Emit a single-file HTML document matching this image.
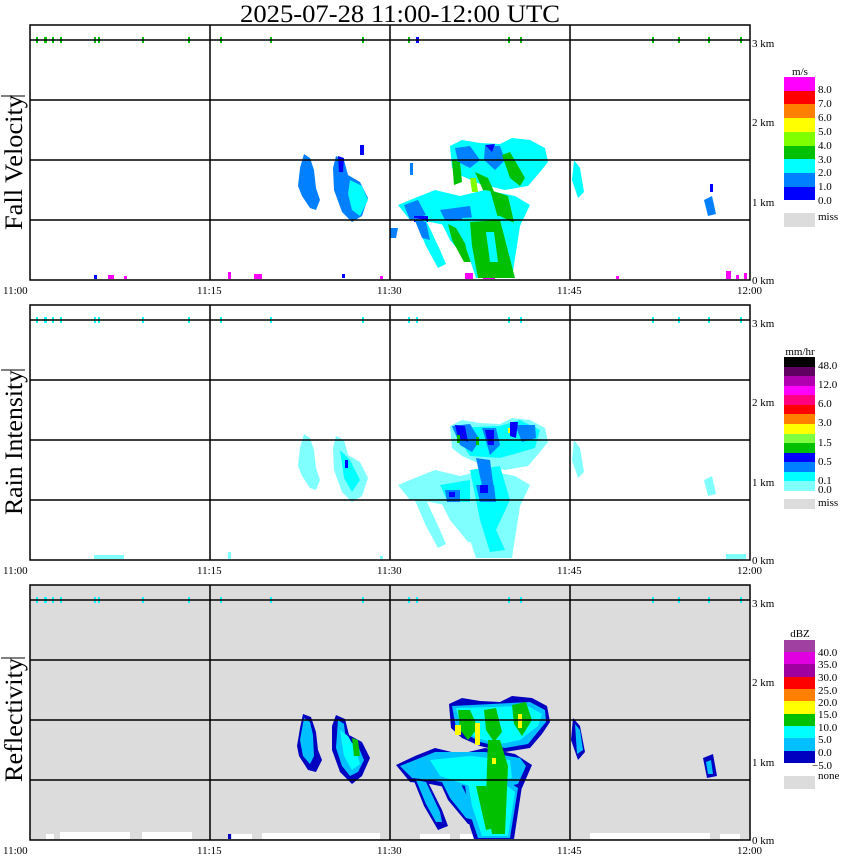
<!DOCTYPE html>
<html><head><meta charset="utf-8"><style>
html,body{margin:0;padding:0;background:#fff;}
svg{display:block;}
text{font-family:"Liberation Serif",serif;fill:#000;}
</style></head><body>
<svg width="850" height="868" viewBox="0 0 850 868" xmlns="http://www.w3.org/2000/svg">
<text x="400" y="22" font-size="25" text-anchor="middle" textLength="320" lengthAdjust="spacingAndGlyphs">2025-07-28  11:00-12:00 UTC</text>

<!-- ===== Panel 1: Fall Velocity ===== -->
<g>
<rect x="30" y="25" width="720" height="255" fill="#fff"/>
<g fill="#00c000">
<rect x="36" y="37" width="2" height="6"/><rect x="44" y="37" width="3" height="6"/><rect x="52" y="37" width="2" height="6"/><rect x="60" y="37" width="2" height="6"/><rect x="94" y="37" width="2" height="6"/><rect x="98" y="37" width="2" height="6"/><rect x="142" y="37" width="2" height="6"/><rect x="188" y="37" width="2" height="6"/><rect x="220" y="37" width="2" height="6"/><rect x="270" y="37" width="2" height="6"/><rect x="362" y="37" width="2" height="6"/><rect x="408" y="37" width="2" height="6"/><rect x="508" y="37" width="2" height="6"/><rect x="520" y="37" width="2" height="6"/><rect x="652" y="37" width="2" height="6"/><rect x="678" y="37" width="2" height="6"/><rect x="708" y="37" width="2" height="6"/><rect x="740" y="37" width="2" height="6"/>
</g>
<rect x="416" y="37" width="3" height="6" fill="#0000ff"/>
<g fill="#ff00ff">
<rect x="108" y="275" width="6" height="4"/><rect x="124" y="276" width="3" height="3"/><rect x="228" y="272" width="3" height="7"/><rect x="254" y="274" width="8" height="5"/><rect x="380" y="276" width="3" height="3"/><rect x="465" y="273" width="8" height="6"/><rect x="483" y="275" width="12" height="4"/><rect x="616" y="276" width="3" height="3"/><rect x="726" y="271" width="5" height="8"/><rect x="736" y="275" width="3" height="4"/><rect x="744" y="273" width="3" height="6"/>
</g>
<rect x="94" y="275" width="3" height="4" fill="#0000ff"/><rect x="342" y="274" width="3" height="4" fill="#0000ff"/>
<polygon fill="#0080ff" points="304,154 310,158 314,170 316,188 320,200 316,210 310,208 302,196 298,186 300,168"/>
<polygon fill="#0080ff" points="336,156 344,160 348,175 360,182 368,198 362,216 352,222 342,212 334,190 333,168"/>
<polygon fill="#00ffff" points="350,180 362,186 368,200 360,216 352,210 348,194"/>
<polygon fill="#0000ff" points="338,156 344,158 343,172 339,172"/>
<polygon fill="#0000ff" points="360,145 364,145 364,155 360,155"/>
<polygon fill="#00ffff" points="450,146 462,140 480,143 500,144 512,138 530,140 545,148 548,162 540,172 528,186 505,190 480,184 462,176 452,168"/>
<polygon fill="#0080ff" points="455,148 470,146 480,160 470,168 458,162"/>
<polygon fill="#0080ff" points="485,146 500,146 505,160 495,170 484,160"/>
<polygon fill="#0000ff" points="485,145 495,144 492,152"/>
<polygon fill="#00c000" points="452,160 460,162 462,182 454,185"/>
<polygon fill="#00c000" points="475,172 488,178 500,205 490,206"/>
<polygon fill="#00c000" points="502,155 510,152 525,178 520,186 510,178"/>
<polygon fill="#80ff00" points="470,178 476,178 478,192 472,192"/>
<polygon fill="#00ffff" points="398,205 415,198 435,190 460,196 485,190 515,196 530,205 520,226 490,232 460,228 430,222 410,220"/>
<polygon fill="#0080ff" points="404,205 418,200 426,215 410,220"/>
<polygon fill="#0080ff" points="440,210 470,206 472,218 446,222"/>
<polygon fill="#0000ff" points="414,216 428,216 428,222 414,222"/>
<polygon fill="#00c000" points="490,190 508,196 514,222 500,225"/>
<polygon fill="#00ffff" points="414,218 426,220 440,250 446,264 438,268 426,246"/>
<polygon fill="#0080ff" points="414,218 426,222 430,240 422,238"/>
<polygon fill="#00ffff" points="440,220 460,222 470,240 478,262 468,262 450,240"/>
<polygon fill="#00c000" points="448,224 456,228 470,252 472,262 464,262 452,240"/>
<polygon fill="#00ffff" points="462,218 500,216 520,226 512,278 476,278 466,248"/>
<polygon fill="#00c000" points="470,222 500,220 515,278 478,278 472,246"/>
<polygon fill="#00ffff" points="486,232 494,232 498,262 490,262"/>
<polygon fill="#0080ff" points="390,228 398,228 396,238 390,238"/>
<polygon fill="#00ffff" points="574,160 580,168 584,192 578,198 572,180"/>
<polygon fill="#0080ff" points="704,200 712,196 716,214 708,216"/>
<rect x="710" y="184" width="3" height="8" fill="#0000ff"/>
<rect x="410" y="163" width="3" height="12" fill="#0080ff"/>
<g stroke="#000" stroke-width="1.5" fill="none">
<rect x="30" y="25" width="720" height="255"/>
<line x1="30" y1="40" x2="750" y2="40"/><line x1="30" y1="100" x2="750" y2="100"/><line x1="30" y1="160" x2="750" y2="160"/><line x1="30" y1="220" x2="750" y2="220"/>
<line x1="210" y1="25" x2="210" y2="280"/><line x1="390" y1="25" x2="390" y2="280"/><line x1="570" y1="25" x2="570" y2="280"/>
</g>
<text font-size="11" x="752" y="47">3 km</text><text font-size="11" x="752" y="126">2 km</text><text font-size="11" x="752" y="206">1 km</text><text font-size="11" x="752" y="284">0 km</text>
<text font-size="11" x="3" y="294">11:00</text><text font-size="11" x="197" y="294">11:15</text><text font-size="11" x="377" y="294">11:30</text><text font-size="11" x="557" y="294">11:45</text><text font-size="11" x="737" y="294">12:00</text>
<text font-size="25" transform="translate(22,230) rotate(-90)" textLength="135" lengthAdjust="spacingAndGlyphs">Fall Velocity</text>
<line x1="1" y1="96" x2="25" y2="96" stroke="#000"/>
<text font-size="11" x="800" y="75" text-anchor="middle">m/s</text>
<rect x="784" y="77" width="31" height="14" fill="#ff00ff"/><rect x="784" y="91" width="31" height="13" fill="#ff0000"/><rect x="784" y="104" width="31" height="14" fill="#ff8000"/><rect x="784" y="118" width="31" height="14" fill="#ffff00"/><rect x="784" y="132" width="31" height="14" fill="#80ff00"/><rect x="784" y="146" width="31" height="13" fill="#00c000"/><rect x="784" y="159" width="31" height="14" fill="#00ffff"/><rect x="784" y="173" width="31" height="14" fill="#0080ff"/><rect x="784" y="187" width="31" height="13" fill="#0000ff"/>
<rect x="784" y="213" width="31" height="14" fill="#dcdcdc"/>
<g font-size="11"><text x="818" y="93">8.0</text><text x="818" y="107">7.0</text><text x="818" y="121">6.0</text><text x="818" y="135">5.0</text><text x="818" y="149">4.0</text><text x="818" y="163">3.0</text><text x="818" y="176">2.0</text><text x="818" y="190">1.0</text><text x="818" y="204">0.0</text><text x="818" y="220">miss</text></g>
</g>

<!-- ===== Panel 2: Rain Intensity ===== -->
<g transform="translate(0,280)">
<g fill="#00ffff">
<rect x="36" y="37" width="2" height="6"/><rect x="44" y="37" width="3" height="6"/><rect x="52" y="37" width="2" height="6"/><rect x="60" y="37" width="2" height="6"/><rect x="94" y="37" width="2" height="6"/><rect x="98" y="37" width="2" height="6"/><rect x="142" y="37" width="2" height="6"/><rect x="188" y="37" width="2" height="6"/><rect x="220" y="37" width="2" height="6"/><rect x="270" y="37" width="2" height="6"/><rect x="362" y="37" width="2" height="6"/><rect x="408" y="37" width="2" height="6"/><rect x="416" y="37" width="2" height="6"/><rect x="508" y="37" width="2" height="6"/><rect x="520" y="37" width="2" height="6"/><rect x="652" y="37" width="2" height="6"/><rect x="678" y="37" width="2" height="6"/><rect x="708" y="37" width="2" height="6"/><rect x="740" y="37" width="2" height="6"/>
</g>
<g fill="#80ffff">
<rect x="94" y="275" width="30" height="4"/><rect x="228" y="272" width="3" height="7"/><rect x="380" y="276" width="3" height="3"/><rect x="726" y="274" width="20" height="5"/>
<polygon points="304,154 310,158 314,170 316,188 320,200 316,210 310,208 302,196 298,186 300,168"/>
<polygon points="336,156 344,160 348,175 360,182 368,198 362,216 352,222 342,212 334,190 333,168"/>
<polygon points="450,146 462,140 480,143 500,144 512,138 530,140 545,148 548,162 540,172 528,186 505,190 480,184 462,176 452,168"/>
<polygon points="398,205 415,198 435,190 460,196 485,190 515,196 530,205 520,226 490,232 460,228 430,222 410,220"/>
<polygon points="414,218 426,220 440,250 446,264 438,268 426,246"/>
<polygon points="440,220 460,222 470,240 478,262 468,262 450,240"/>
<polygon points="462,218 500,216 520,226 512,278 476,278 466,248"/>
<polygon points="574,160 580,168 584,192 578,198 572,180"/>
<polygon points="704,200 712,196 716,214 708,216"/>
</g>
<g fill="#00ffff">
<polygon points="340,170 350,180 360,200 352,212 344,198"/>
<polygon points="452,148 500,146 520,140 540,150 535,168 500,178 470,176"/>
<polygon points="470,190 500,186 510,220 496,250 505,270 490,272 480,240"/>
<polygon points="440,205 470,200 470,222 448,222"/>
</g>
<g fill="#0080ff">
<polygon points="452,146 470,144 480,160 472,172 460,165"/>
<polygon points="482,148 496,148 500,165 490,175"/>
<polygon points="515,145 535,145 536,158 522,162"/>
<polygon points="476,178 490,180 494,210 484,215"/>
<polygon points="445,210 460,210 460,222 447,222"/>
<polygon points="476,205 494,205 496,222 480,222"/>
</g>
<g fill="#0000ff">
<polygon points="455,145 465,146 468,162 458,158"/>
<polygon points="485,150 494,150 494,165 488,165"/>
<polygon points="510,142 518,142 516,158 510,156"/>
<rect x="480" y="205" width="8" height="8"/><rect x="449" y="212" width="6" height="5"/>
<rect x="345" y="180" width="3" height="8"/>
</g>
<rect x="457" y="155" width="3" height="8" fill="#00c000"/><rect x="476" y="157" width="3" height="8" fill="#00c000"/><rect x="508" y="148" width="2" height="5" fill="#ffff00"/>
<g stroke="#000" stroke-width="1.5" fill="none">
<rect x="30" y="25" width="720" height="255"/>
<line x1="30" y1="40" x2="750" y2="40"/><line x1="30" y1="100" x2="750" y2="100"/><line x1="30" y1="160" x2="750" y2="160"/><line x1="30" y1="220" x2="750" y2="220"/>
<line x1="210" y1="25" x2="210" y2="280"/><line x1="390" y1="25" x2="390" y2="280"/><line x1="570" y1="25" x2="570" y2="280"/>
</g>
<text font-size="11" x="752" y="47">3 km</text><text font-size="11" x="752" y="126">2 km</text><text font-size="11" x="752" y="206">1 km</text><text font-size="11" x="752" y="284">0 km</text>
<text font-size="11" x="3" y="294">11:00</text><text font-size="11" x="197" y="294">11:15</text><text font-size="11" x="377" y="294">11:30</text><text font-size="11" x="557" y="294">11:45</text><text font-size="11" x="737" y="294">12:00</text>
<text font-size="25" transform="translate(22,235) rotate(-90)" textLength="145" lengthAdjust="spacingAndGlyphs">Rain Intensity</text>
<line x1="1" y1="90" x2="25" y2="90" stroke="#000"/>
<text font-size="11" x="800" y="75" text-anchor="middle">mm/hr</text>
<rect x="784" y="77" width="31" height="10" fill="#000000"/><rect x="784" y="87" width="31" height="9" fill="#600060"/><rect x="784" y="96" width="31" height="10" fill="#b000b0"/><rect x="784" y="106" width="31" height="9" fill="#ff00ff"/><rect x="784" y="115" width="31" height="10" fill="#ff0080"/><rect x="784" y="125" width="31" height="9" fill="#ff0000"/><rect x="784" y="134" width="31" height="10" fill="#ff8000"/><rect x="784" y="144" width="31" height="10" fill="#ffff00"/><rect x="784" y="154" width="31" height="9" fill="#80ff40"/><rect x="784" y="163" width="31" height="10" fill="#00c000"/><rect x="784" y="173" width="31" height="9" fill="#0000ff"/><rect x="784" y="182" width="31" height="10" fill="#0080ff"/><rect x="784" y="192" width="31" height="9" fill="#00ffff"/><rect x="784" y="201" width="31" height="10" fill="#80ffff"/>
<rect x="784" y="219" width="31" height="10" fill="#dcdcdc"/>
<g font-size="11"><text x="818" y="89">48.0</text><text x="818" y="108">12.0</text><text x="818" y="127">6.0</text><text x="818" y="146">3.0</text><text x="818" y="166">1.5</text><text x="818" y="185">0.5</text><text x="818" y="204">0.1</text><text x="818" y="213">0.0</text><text x="818" y="226">miss</text></g>
</g>

<!-- ===== Panel 3: Reflectivity ===== -->
<g transform="translate(0,560)">
<rect x="30" y="25" width="720" height="255" fill="#dcdcdc"/>
<g fill="#ffffff">
<rect x="46" y="274" width="8" height="5"/><rect x="60" y="272" width="70" height="7"/><rect x="142" y="272" width="50" height="7"/><rect x="232" y="274" width="20" height="5"/><rect x="262" y="273" width="118" height="6"/><rect x="420" y="274" width="30" height="5"/><rect x="460" y="274" width="40" height="5"/><rect x="590" y="273" width="120" height="6"/><rect x="720" y="274" width="20" height="5"/>
</g>
<rect x="228" y="274" width="3" height="5" fill="#0000c0"/>
<g fill="#00ffff">
<rect x="36" y="37" width="2" height="6"/><rect x="44" y="37" width="3" height="6"/><rect x="52" y="37" width="2" height="6"/><rect x="60" y="37" width="2" height="6"/><rect x="94" y="37" width="2" height="6"/><rect x="98" y="37" width="2" height="6"/><rect x="142" y="37" width="2" height="6"/><rect x="188" y="37" width="2" height="6"/><rect x="220" y="37" width="2" height="6"/><rect x="270" y="37" width="2" height="6"/><rect x="362" y="37" width="2" height="6"/><rect x="408" y="37" width="2" height="6"/><rect x="416" y="37" width="2" height="6"/><rect x="508" y="37" width="2" height="6"/><rect x="520" y="37" width="2" height="6"/><rect x="652" y="37" width="2" height="6"/><rect x="678" y="37" width="2" height="6"/><rect x="708" y="37" width="2" height="6"/><rect x="740" y="37" width="2" height="6"/>
</g>
<g fill="#0000c0">
<polygon points="303,154 311,157 316,172 318,190 322,200 316,212 308,210 299,196 297,186 300,168"/>
<polygon points="336,155 345,159 349,175 362,182 370,198 362,216 352,224 340,212 332,190 332,166"/>
<polygon points="449,144 462,138 480,141 500,142 512,136 532,138 547,146 550,162 542,174 530,188 505,192 480,186 462,178 451,168"/>
<polygon points="396,205 415,196 435,188 460,194 485,188 515,194 532,205 522,228 490,234 460,230 430,224 410,222"/>
<polygon points="412,216 426,218 442,250 448,266 438,270 424,246"/>
<polygon points="438,218 460,220 472,240 480,264 468,264 448,240"/>
<polygon points="460,216 500,214 522,226 514,279 474,279 464,248"/>
<polygon points="573,158 580,166 585,192 578,200 571,180"/>
<polygon points="703,198 713,194 717,216 707,218"/>
</g>
<g fill="#00c0ff">
<polygon points="304,158 310,162 313,175 314,196 310,204 303,196 300,180"/>
<polygon points="338,160 344,164 346,180 358,186 364,200 358,212 350,216 342,206 336,188"/>
<polygon points="452,146 530,142 545,150 546,162 528,184 505,188 480,182 456,168"/>
<polygon points="400,206 435,192 485,192 520,198 526,206 518,224 490,230 430,220 412,218"/>
<polygon points="416,220 426,222 440,252 442,262 436,262 426,244"/>
<polygon points="442,222 460,222 470,242 474,260 466,258 450,238"/>
<polygon points="464,218 500,216 518,228 510,278 478,278 468,248"/>
<polygon points="575,164 580,170 583,190 577,194"/>
<polygon points="706,202 711,200 713,214 708,214"/>
</g>
<g fill="#00ffff">
<polygon points="340,170 348,176 356,190 360,204 352,210 344,196"/>
<polygon points="456,148 528,146 542,154 538,166 520,180 500,184 476,178 460,164"/>
<polygon points="430,200 470,196 510,200 512,218 470,226 440,216"/>
<polygon points="468,222 500,220 515,232 508,276 482,276 472,246"/>
</g>
<g fill="#00c000">
<polygon points="458,150 470,150 478,168 468,180 460,170"/>
<polygon points="484,150 496,148 502,172 494,182 486,170"/>
<polygon points="512,145 526,142 532,160 522,176 514,164"/>
<polygon points="488,180 500,180 508,206 505,274 492,274 486,236"/>
<polygon points="476,226 486,226 494,268 486,270"/>
<polygon points="352,178 358,180 360,196 354,196"/>
</g>
<g fill="#ffff00">
<rect x="455" y="165" width="6" height="10"/><rect x="475" y="163" width="5" height="22"/><rect x="518" y="154" width="4" height="14"/><rect x="492" y="198" width="4" height="6"/>
</g>
<g stroke="#000" stroke-width="1.5" fill="none">
<rect x="30" y="25" width="720" height="255"/>
<line x1="30" y1="40" x2="750" y2="40"/><line x1="30" y1="100" x2="750" y2="100"/><line x1="30" y1="160" x2="750" y2="160"/><line x1="30" y1="220" x2="750" y2="220"/>
<line x1="210" y1="25" x2="210" y2="280"/><line x1="390" y1="25" x2="390" y2="280"/><line x1="570" y1="25" x2="570" y2="280"/>
</g>
<text font-size="11" x="752" y="47">3 km</text><text font-size="11" x="752" y="126">2 km</text><text font-size="11" x="752" y="206">1 km</text><text font-size="11" x="752" y="284">0 km</text>
<text font-size="11" x="3" y="294">11:00</text><text font-size="11" x="197" y="294">11:15</text><text font-size="11" x="377" y="294">11:30</text><text font-size="11" x="557" y="294">11:45</text><text font-size="11" x="737" y="294">12:00</text>
<text font-size="25" transform="translate(22,222) rotate(-90)" textLength="124" lengthAdjust="spacingAndGlyphs">Reflectivity</text>
<line x1="1" y1="98" x2="25" y2="98" stroke="#000"/>
<text font-size="11" x="800" y="77" text-anchor="middle">dBZ</text>
<rect x="784" y="80" width="31" height="12" fill="#a040a0"/><rect x="784" y="92" width="31" height="12" fill="#e000e0"/><rect x="784" y="104" width="31" height="13" fill="#a000a0"/><rect x="784" y="117" width="31" height="12" fill="#ff0000"/><rect x="784" y="129" width="31" height="12" fill="#ff8000"/><rect x="784" y="141" width="31" height="13" fill="#ffff00"/><rect x="784" y="154" width="31" height="12" fill="#00c000"/><rect x="784" y="166" width="31" height="12" fill="#00ffff"/><rect x="784" y="178" width="31" height="13" fill="#00c0ff"/><rect x="784" y="191" width="31" height="12" fill="#0000c0"/>
<rect x="784" y="216" width="31" height="13" fill="#dcdcdc"/>
<g font-size="11"><text x="818" y="96">40.0</text><text x="818" y="108">35.0</text><text x="818" y="121">30.0</text><text x="818" y="134">25.0</text><text x="818" y="146">20.0</text><text x="818" y="158">15.0</text><text x="818" y="171">10.0</text><text x="818" y="183">5.0</text><text x="818" y="196">0.0</text><text x="812" y="209">−5.0</text><text x="818" y="219">none</text></g>
</g>
</svg>
</body></html>
